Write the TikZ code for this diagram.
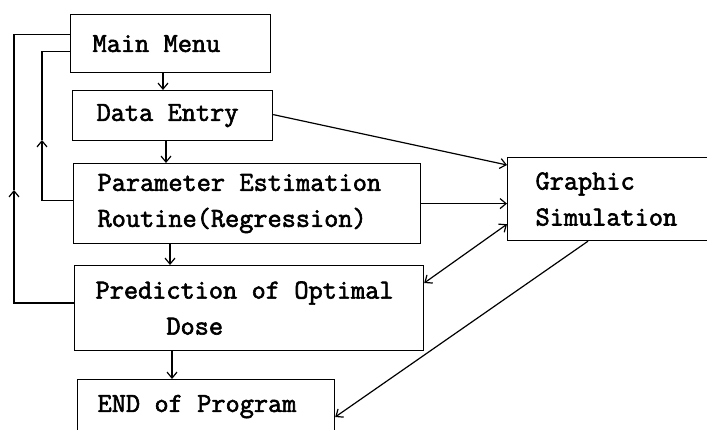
\documentclass[tikz,border=0pt]{standalone}
\usepackage{fontspec}
\setmonofont{Latin Modern Mono}[AutoFakeBold=2.2]
\usetikzlibrary{arrows.meta}
\newcommand\gap{\hspace*{0.525em}}
\tikzset{
  box/.style={draw,line width=1.2pt,anchor=north west,align=left,inner ysep=2pt,font=\ttfamily\bfseries\fontsize{27.5}{36}\selectfont},
  arr/.style={line width=1.2pt,-{Straight Barb[length=6pt,width=10pt]}},
  line/.style={line width=1.2pt}
}
\begin{document}
\begin{tikzpicture}[x=1pt,y=-1pt]
  \useasboundingbox (0,0) rectangle (707,430);
  % boxes
  \node[box,inner xsep=22pt,text width=156pt,minimum height=58pt] (mm) at (70,14) {Main\gap Menu};
  \node[box,inner xsep=24pt,text width=152pt,minimum height=50pt] (de) at (72,90) {Data\gap Entry};
  \node[box,inner xsep=24pt,text width=299pt,minimum height=80pt] (par) at (73,163) {\mbox{Parameter\gap Estimation}\\Routine(Regression)};
  \node[box,inner xsep=21pt,text width=307pt,minimum height=85pt] (pred) at (74,265) {\mbox{Prediction\gap of\gap Optimal}\\\phantom{Predi}Dose};
  \node[box,inner xsep=20pt,text width=217pt,minimum height=54pt] (end) at (77,379) {\mbox{END\gap of\gap Program}};
  \node[box,inner xsep=28pt,text width=160pt,minimum height=83pt] (gs) at (507,157) {Graphic\\Simulation};
  % downward flow
  \draw[arr] ([xshift=93pt]mm.south west) -- ([xshift=93pt]mm.south west |- de.north);
  \draw[arr] ([xshift=94pt]de.south west) -- ([xshift=94pt]de.south west |- par.north);
  \draw[arr] ([xshift=97pt]par.south west) -- ([xshift=97pt]par.south west |- pred.north);
  \draw[arr] ([xshift=98pt]pred.south west) -- ([xshift=98pt]pred.south west |- end.north);
  % to and from the simulation
  \draw[arr] ([yshift=1pt]de.east) -- ([yshift=-8pt]gs.north west);
  \draw[arr] (par.east) -- (par.east -| gs.west);
  \draw[arr,{Straight Barb[length=6pt,width=10pt]}-{Straight Barb[length=6pt,width=10pt]}] ([yshift=-18pt]pred.north east) -- ([yshift=17pt]gs.south west);
  \draw[arr] ([xshift=81pt]gs.south west) -- ([yshift=-38pt]end.north east);
  % return loops to the menu
  \coordinate (lpo) at (14,190); \coordinate (lpi) at (42,140);
  \draw[arr] ([yshift=5pt]pred.west) -| (lpo); \draw[line] (lpo) |- ([yshift=9pt]mm.west);
  \draw[arr] ([yshift=3pt]par.west) -| (lpi); \draw[line] (lpi) |- ([yshift=-8pt]mm.west);
\end{tikzpicture}
\end{document}
